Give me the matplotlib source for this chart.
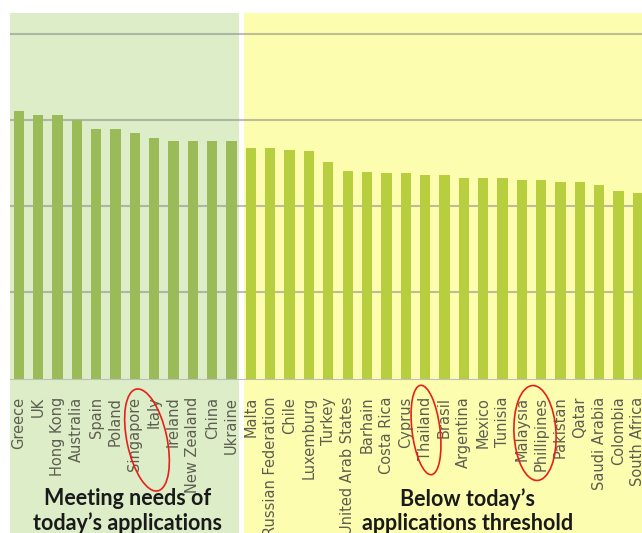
import matplotlib.pyplot as plt
from matplotlib.patches import Ellipse
from matplotlib.transforms import Affine2D, blended_transform_factory

# data (arbitrary score units, gridlines at 1..4)
meeting = ["Greece", "UK", "Hong Kong", "Australia", "Spain", "Poland", "Singapore",
           "Italy", "Ireland", "New Zealand", "China", "Ukraine"]
meeting_vals = [3.10, 3.06, 3.06, 3.00, 2.90, 2.89, 2.85, 2.79, 2.75, 2.75, 2.75, 2.75]

below = ["Malta", "Russian Federation", "Chile", "Luxemburg", "Turkey",
         "United Arab States", "Barhain", "Costa Rica", "Cyprus", "Thailand", "Brasil",
         "Argentina", "Mexico", "Tunisia", "Malaysia", "Phillipines", "Pakistan", "Qatar",
         "Saudi Arabia", "Colombia", "South Africa"]
below_vals = [2.68, 2.68, 2.65, 2.64, 2.51, 2.41, 2.40, 2.38, 2.38, 2.36, 2.36,
              2.33, 2.33, 2.33, 2.30, 2.30, 2.28, 2.28, 2.25, 2.17, 2.15]

# hand-drawn red loops (centre x, centre y, w, h, angle) in image pixels from top-left
loops = [(147, 440, 40, 104, 12), (426, 430, 28, 90, 7), (535, 433, 42, 95, 3)]

W, H = 642, 533
fig = plt.figure(figsize=(W / 100, H / 100), dpi=100)
plt.rcParams['font.family'] = ['Lato', 'DejaVu Sans']
ax = fig.add_axes([10 / W, (H - 378.6) / H, 1 - 10 / W, (378.6 - 13) / H])
ax.set_facecolor('none')

n1 = len(meeting)
x1 = list(range(n1))
x2 = list(range(n1, n1 + len(below)))

# shaded backgrounds run down behind the labels
ax.axvspan(-0.45, n1 - 0.6, ymin=-0.5, ymax=1, color='#dcedc8', lw=0, zorder=0, clip_on=False)
ax.axvspan(n1 - 0.34, 40, ymin=-0.5, ymax=1, color='#fdfdb0', lw=0, zorder=0, clip_on=False)

ax.bar(x1, meeting_vals, width=0.53, color='#9bbb59', zorder=3)
ax.bar(x2, below_vals, width=0.53, color='#b7ce3e', zorder=3)

ax.set_ylim(0, 4.24)
ax.set_xlim(-0.45, 32.21)
ax.set_yticks([1, 2, 3, 4])
ax.yaxis.grid(True, color='#7f7f7f', alpha=0.5, lw=1.5, zorder=1)
ax.set_axisbelow(True)
ax.tick_params(axis='y', left=False, labelleft=False)
ax.set_xticks(x1 + x2)
ax.set_xticklabels(meeting + below, rotation=90, fontsize=10.5, color='#5e5e50',
                   family='DejaVu Sans')
ax.tick_params(axis='x', length=0, pad=13)
for s in ['top', 'right', 'left']:
    ax.spines[s].set_visible(False)
ax.spines['bottom'].set_color('#bfbfbf')

tr = blended_transform_factory(ax.transData, ax.transAxes)
ax.text(5.6, -0.362, "Meeting needs of\ntoday\u2019s applications", transform=tr,
        ha='center', va='center', fontsize=15.5, fontweight='bold', linespacing=1.2,
        color='#1a1a1a', clip_on=False)
ax.text(23.17, -0.362, "Below today\u2019s\napplications threshold", transform=tr,
        ha='center', va='center', fontsize=15.5, fontweight='bold', linespacing=1.2,
        color='#1a1a1a', clip_on=False)

px = Affine2D().scale(1 / W, 1 / H) + fig.transFigure
for cx, cy, w, h, a in loops:
    fig.patches.append(Ellipse((cx, H - cy), w, h, angle=a, transform=px,
                               fill=False, edgecolor='#e8201c', lw=1.2))

fig.savefig('out.png', dpi=100)
